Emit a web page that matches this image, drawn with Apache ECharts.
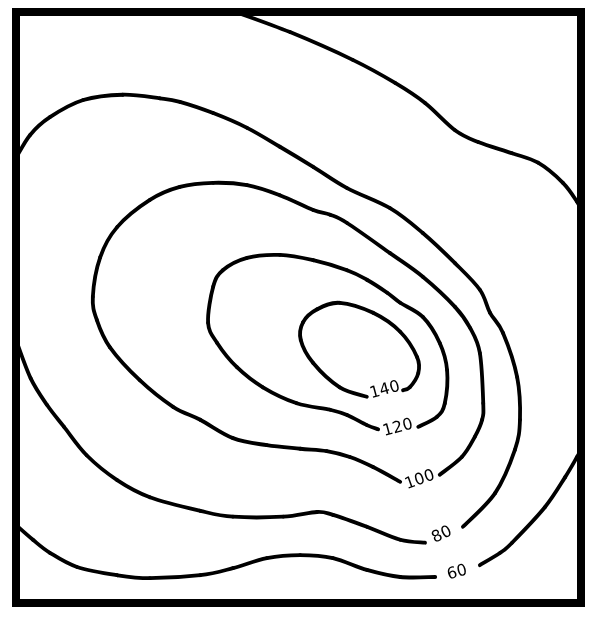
<!DOCTYPE html>
<html>
<head>
<meta charset="utf-8">
<script src="https://cdn.jsdelivr.net/npm/echarts@6/dist/echarts.min.js"></script>
<style>html,body{margin:0;padding:0;background:#fff}#chart{width:595px;height:620px}</style>
</head>
<body>
<div id="chart"></div>
<script>
// Contour levels and their traced isolines (x, y in field units 0..100)
var levels = [60, 80, 100, 120, 140];

var contour60Upper = [[38.9,100],[48.5,96.6],[59.6,91.9],[67.1,88.0],[72.4,84.6],[77.7,80.0],[81.8,78.0],[87.8,76.1],[92.4,74.5],[96.8,71.1],[99.3,67.9],[100,66.5]];
var contour60Lower = [[0,13.2],[3.0,10.7],[6.0,8.5],[10.8,6.1],[17.9,4.7],[23.7,4.2],[32.6,4.7],[38.4,5.9],[44.4,7.6],[50.3,8.1],[56.1,7.6],[62.1,5.6],[68.0,4.4],[74.2,4.4]];
var contour60Right = [[82.1,6.4],[85.7,8.5],[87.8,10.2],[93.6,16.2],[97.2,21.3],[99.3,24.7],[100,25.9]];

var contour80Left = [[0,44.5],[2.6,38.0],[5.5,33.5],[8.5,29.8],[12.5,25.0],[17.9,20.8],[23.7,17.9],[32.6,15.6],[38.4,14.6],[47.3,14.6],[53.3,15.4],[56.1,14.9],[62.1,12.9],[68.0,10.7],[72.4,10.2]];
var contour80Right = [[79.1,12.9],[84.8,18.6],[88.3,25.9],[89.2,31.0],[88.7,38.2],[86.2,45.7],[83.9,49.1],[82.1,53.0],[77.7,57.5],[72.0,62.6],[66.2,66.8],[58.6,70.2],[52.6,73.8],[46.7,77.2],[40.9,80.4],[34.9,82.9],[29.0,84.8],[25.5,85.4],[18.9,86.0],[11.9,85.1],[6.0,82.2],[2.5,79.2],[0,75.3]];

var contour100 = [[75.0,21.7],[78.9,24.7],[81.2,28.1],[82.5,31.0],[82.7,33.8],[82.1,42.3],[80.4,46.5],[77.7,50.1],[72.0,55.2],[66.2,59.2],[58.6,64.3],[55.6,65.7],[52.6,66.5],[46.7,69.0],[40.9,70.7],[34.9,71.1],[29.0,70.4],[23.7,68.2],[17.9,63.6],[14.9,58.5],[13.6,51.8],[14.3,47.9],[16.6,43.3],[21.9,37.7],[27.8,33.2],[32.6,31.0],[38.4,27.9],[44.4,26.7],[50.3,26.1],[55.0,25.7],[59.1,24.7],[63.2,23.0],[68.0,20.5]];

var contour120 = [[71.2,29.8],[74.5,31.5],[75.9,33.8],[76.3,39.4],[75.0,44.0],[72.0,48.4],[68.0,50.8],[65.7,52.5],[62.1,54.7],[58.6,56.3],[52.6,58.0],[46.7,58.9],[40.9,58.4],[36.6,56.3],[34.9,53.5],[34.0,47.4],[35.6,44.0],[39.1,39.9],[43.7,36.5],[49.7,33.8],[55.6,32.7],[58.6,31.8],[62.1,30.1],[64.1,29.4]];

var contour140 = [[68.5,36.0],[69.7,36.5],[71.2,38.9],[71.0,41.6],[68.0,45.9],[63.2,49.1],[57.3,50.8],[53.3,49.7],[50.8,47.5],[50.4,44.5],[52.6,40.6],[57.3,36.5],[62.1,34.9]];

// label anchor positions and tilt for each level
var labelPos = [[78.1,5.1],[75.4,11.5],[71.5,20.8],[67.6,29.6],[65.3,36.0]];
var labelTilt = [15, 25, 20, 15, 15];

var lines = [contour60Upper, contour60Lower, contour60Right, contour80Left, contour80Right, contour100, contour120, contour140];

// Smooth curve (Catmull-Rom) through the series' own points, mapped by the axes
function makeRender(pts) {
  return function (params, api) {
    if (params.dataIndex !== 0) return null;
    var p = pts.map(function (d) { return api.coord(d); });
    var children = [];
    var n = p.length;
    for (var i = 0; i < n - 1; i++) {
      var p0 = p[i > 0 ? i - 1 : i], p1 = p[i], p2 = p[i + 1], p3 = p[i + 2 < n ? i + 2 : i + 1];
      var k = 1 / 6;
      children.push({
        type: 'bezierCurve',
        shape: {
          x1: p1[0], y1: p1[1], x2: p2[0], y2: p2[1],
          cpx1: p1[0] + (p2[0] - p0[0]) * k, cpy1: p1[1] + (p2[1] - p0[1]) * k,
          cpx2: p2[0] - (p3[0] - p1[0]) * k, cpy2: p2[1] - (p3[1] - p1[1]) * k
        },
        style: { stroke: '#000', lineWidth: 3.8, fill: null, lineCap: 'round', lineJoin: 'round' }
      });
    }
    return { type: 'group', children: children };
  };
}

var series = lines.map(function (pts) {
  return {
    type: 'custom',
    data: pts,
    encode: { x: 0, y: 1 },
    renderItem: makeRender(pts),
    clip: false,
    silent: true,
    z: 3
  };
});

series.push({
  type: 'scatter',
  symbolSize: 0,
  silent: true,
  itemStyle: { opacity: 1 },
  data: levels.map(function (lv, i) {
    return {
      value: labelPos[i],
      label: {
        show: true,
        formatter: String(lv),
        position: 'inside',
        rotate: labelTilt[i],
        fontFamily: 'DejaVu Sans',
        fontSize: 16,
        color: '#000',
        opacity: 1,
        textBorderWidth: 0
      }
    };
  }),
  z: 4
});

var chart = echarts.init(document.getElementById('chart'), null, { renderer: 'canvas' });
chart.setOption({
  animation: false,
  backgroundColor: '#fff',
  grid: { left: 16, top: 12, right: 14, bottom: 17, show: true, borderColor: '#000', borderWidth: 8, backgroundColor: '#fff' },
  xAxis: { type: 'value', min: 0, max: 100, show: false },
  yAxis: { type: 'value', min: 0, max: 100, show: false },
  series: series
});
</script>
</body>
</html>
